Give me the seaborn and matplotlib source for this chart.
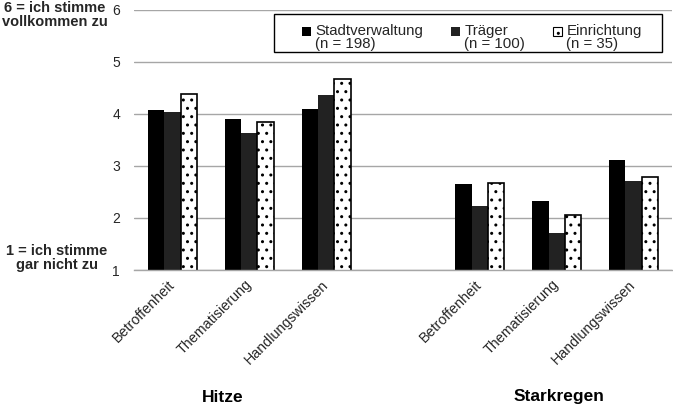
import matplotlib
matplotlib.use("Agg")
import matplotlib.pyplot as plt
import matplotlib.transforms as mtransforms
from matplotlib.patches import Rectangle
from matplotlib.legend_handler import HandlerPatch
import seaborn as sns
import pandas as pd

# ---- data ----
groups = ["Hitze", "Starkregen"]
aspects = ["Betroffenheit", "Thematisierung", "Handlungswissen"]
series = ["Stadtverwaltung", "Träger", "Einrichtung"]
series_n = ["(n = 198)", "(n = 100)", "(n = 35)"]
hitze_stadt = [4.08, 3.90, 4.09]
hitze_traeger = [4.04, 3.62, 4.36]
hitze_einr = [4.37, 3.84, 4.67]
stark_stadt = [2.65, 2.32, 3.12]
stark_traeger = [2.22, 1.71, 2.71]
stark_einr = [2.67, 2.05, 2.79]
yticks = [1, 2, 3, 4, 5, 6]
top_label = "6 = ich stimme\nvollkommen zu"
bottom_label = "1 = ich stimme\ngar nicht zu"

vals = {
    ("Hitze", "Stadtverwaltung"): hitze_stadt,
    ("Hitze", "Träger"): hitze_traeger,
    ("Hitze", "Einrichtung"): hitze_einr,
    ("Starkregen", "Stadtverwaltung"): stark_stadt,
    ("Starkregen", "Träger"): stark_traeger,
    ("Starkregen", "Einrichtung"): stark_einr,
}
rows = []
for g in groups:
    for s in series:
        for a, v in zip(aspects, vals[(g, s)]):
            rows.append({"key": f"{g}|{a}", "series": s, "value": v})
df = pd.DataFrame(rows)
order = [f"Hitze|{a}" for a in aspects] + ["__gap__"] + [f"Starkregen|{a}" for a in aspects]

# ---- style ----
sns.set_theme(style="white")
plt.rcParams["font.family"] = ["Liberation Sans", "DejaVu Sans"]
plt.rcParams["hatch.linewidth"] = 1.0

fig = plt.figure(figsize=(6.73, 4.08), dpi=100)
ax = fig.add_axes([134 / 673, 1 - 270 / 408, 538 / 673, (270 - 9.5) / 408])

colors = {"Stadtverwaltung": "#000000", "Träger": "#222222", "Einrichtung": "#ffffff"}
sns.barplot(data=df, x="key", y="value", hue="series", order=order, hue_order=series,
            palette=colors, width=0.64, gap=0, saturation=1, ax=ax, legend=False)

for i, cont in enumerate(ax.containers):
    for p in cont:
        if series[i] == "Einrichtung":
            p.set_facecolor("white")
            p.set_edgecolor("black")
            p.set_hatch("..")
            p.set_linewidth(1.2)
        else:
            p.set_edgecolor(colors[series[i]])
            p.set_linewidth(0)

ax.set_ylim(1, 6)
ax.set_xlim(-0.5, 6.5)
ax.set_yticks(yticks)
ax.set_yticklabels([str(t) for t in yticks], fontsize=10)
ax.tick_params(axis="y", length=0, pad=10)
ax.yaxis.grid(True, color="#a6a6a6", linewidth=1.0)
ax.set_axisbelow(True)
for sp in ["left", "right", "top"]:
    ax.spines[sp].set_visible(False)
ax.spines["bottom"].set_color("#a6a6a6")
ax.spines["bottom"].set_linewidth(1.0)
ax.set_xlabel("")
ax.set_ylabel("")

xt = [0, 1, 2, 4, 5, 6]
ax.set_xticks(xt)
ax.set_xticklabels(aspects + aspects, fontsize=10.3, rotation=45, ha="right",
                   rotation_mode="anchor", va="center")
ax.tick_params(axis="x", length=0, pad=9)

# group labels
trans = mtransforms.blended_transform_factory(ax.transData, fig.transFigure)
ax.text(0.66, 1 - 397 / 408, "Hitze", transform=trans, ha="center", va="center",
        fontsize=12.5, fontweight="bold", color="black")
ax.text(5.03, 1 - 397 / 408, "Starkregen", transform=trans, ha="center", va="center",
        fontsize=12.5, fontweight="bold", color="black")

# y-axis scale descriptions
fig.text(55 / 673, 1 - 14.5 / 408, top_label, ha="center", va="center", fontsize=10.5,
         fontweight="bold", linespacing=1.0, multialignment="center")
fig.text(57 / 673, 1 - 258 / 408, bottom_label, ha="center", va="center", fontsize=10.5,
         fontweight="bold", linespacing=1.0, multialignment="center")

# legend
def make_square(legend, orig_handle, xdescent, ydescent, width, height, fontsize):
    s = 0.62 * fontsize
    return Rectangle((-xdescent + (width - s) / 2, -ydescent + height * 0.5 + 1.5), s, s)

handles = [
    Rectangle((0, 0), 1, 1, facecolor="#000000", edgecolor="#000000", linewidth=0),
    Rectangle((0, 0), 1, 1, facecolor="#222222", edgecolor="#222222", linewidth=0),
    Rectangle((0, 0), 1, 1, facecolor="white", edgecolor="black", linewidth=0.8, hatch=".."),
]
labels = [f"{s}\n{n}" for s, n in zip(series, series_n)]
leg = fig.legend(handles, labels, loc="upper left",
                 bbox_to_anchor=(301 / 673, 1 - 24 / 408), ncol=3, frameon=False,
                 fontsize=10.8, handlelength=0.7, handletextpad=0.25,
                 columnspacing=1.8, borderpad=0, borderaxespad=0, labelspacing=0,
                 handler_map={Rectangle: HandlerPatch(patch_func=make_square)})
for t in leg.get_texts():
    t.set_linespacing(0.95)

fig.patches.append(Rectangle((274 / 673, 1 - 52 / 408), (662 - 274) / 673, 38 / 408,
                             transform=fig.transFigure, facecolor="white",
                             edgecolor="black", linewidth=1.0, zorder=2))
leg.set_zorder(3)

fig.savefig("out.png", dpi=100)
